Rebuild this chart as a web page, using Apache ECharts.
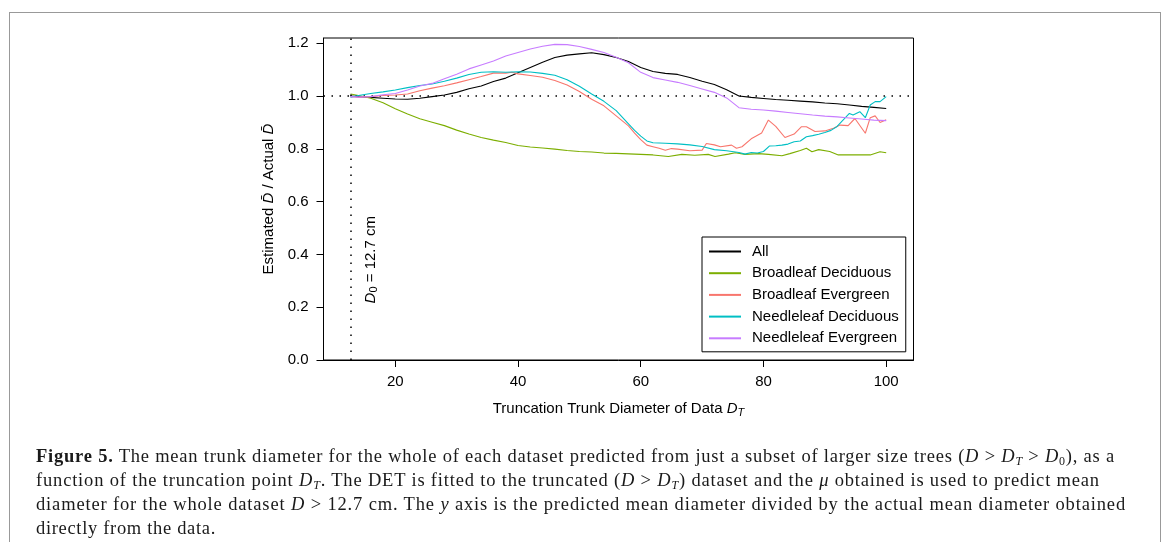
<!DOCTYPE html>
<html>
<head>
<meta charset="utf-8">
<script src="https://cdn.jsdelivr.net/npm/echarts@6/dist/echarts.min.js"></script>
<style>
    html, body { margin: 0; padding: 0; background: #fff; }
    #page { position: relative; width: 1171px; height: 542px; overflow: hidden; }
    #frame { position: absolute; left: 9px; top: 12px; width: 1150px; height: 560px; border: 1.5px solid #999; }
    #chart { position: absolute; left: 0; top: 0; width: 1171px; height: 542px; }
    #caption { position: absolute; left: 36px; top: 444px; font-family: 'Liberation Serif', serif; font-size: 18.5px; line-height: 24px; color: #1a1a1a; }
    #caption div { white-space: nowrap; }
    #caption sub { font-size: 12px; vertical-align: -3px; line-height: 0; }
</style>
</head>
<body>
<div id="page">
    <div id="frame"></div>
    <div id="chart"></div>
    <div id="caption">
        <div class="cap"><b>Figure 5.</b> The mean trunk diameter for the whole of each dataset predicted from just a subset of larger size trees (<i>D</i> &gt; <i>D<sub>T</sub></i> &gt; <i>D</i><sub>0</sub>), as a</div>
        <div class="cap">function of the truncation point <i>D<sub>T</sub></i>. The DET is fitted to the truncated (<i>D</i> &gt; <i>D<sub>T</sub></i>) dataset and the <i>μ</i> obtained is used to predict mean</div>
        <div class="cap">diameter for the whole dataset <i>D</i> &gt; 12.7 cm. The <i>y</i> axis is the predicted mean diameter divided by the actual mean diameter obtained</div>
        <div class="cap">directly from the data.</div>
    </div>
</div>
<script>
// 截断点 D0
const D0 = 12.7;
const xTicks = [20, 40, 60, 80, 100];
const yTicks = [0, 0.2, 0.4, 0.6, 0.8, 1.0, 1.2];

const seriesNames = ['All', 'Broadleaf Deciduous', 'Broadleaf Evergreen', 'Needleleaf Deciduous', 'Needleleaf Evergreen'];
const seriesColors = ['#000000', '#7CAE00', '#F8766D', '#00BFC4', '#C77CFF'];

// [D_T, 估计/实际]
const allData = [[12.7, 1.000], [14, 0.998], [16, 0.995], [18, 0.992], [20, 0.989], [22, 0.988], [24, 0.992], [26, 0.998], [28, 1.004],
    [30, 1.014], [32, 1.028], [34, 1.038], [36, 1.055], [38, 1.068], [40, 1.088], [42, 1.108], [44, 1.128], [46, 1.146],
    [48, 1.155], [50, 1.160], [52, 1.164], [54, 1.157], [56, 1.146], [58, 1.131], [60, 1.108], [62, 1.093], [64, 1.086],
    [66, 1.082], [68, 1.070], [70, 1.056], [72, 1.044], [74, 1.024], [76, 1.000], [78, 0.995], [80, 0.991], [82, 0.987],
    [84, 0.984], [86, 0.981], [88, 0.978], [90, 0.974], [92, 0.971], [94, 0.966], [96, 0.961], [98, 0.957], [100, 0.953]];

const broadDecData = [[12.7, 1.008], [14, 1.002], [16, 0.992], [18, 0.975], [20, 0.952], [22, 0.932], [24, 0.914], [26, 0.901],
    [28, 0.888], [30, 0.871], [32, 0.856], [34, 0.843], [36, 0.833], [38, 0.824], [40, 0.813], [42, 0.807], [44, 0.803],
    [46, 0.799], [48, 0.794], [50, 0.790], [52, 0.788], [54, 0.784], [56, 0.783], [58, 0.781], [60, 0.779], [62, 0.777],
    [64.5, 0.771], [66.7, 0.779], [68.8, 0.776], [71, 0.779], [72.1, 0.771], [74.3, 0.780], [75.4, 0.785], [77, 0.779],
    [79.2, 0.782], [80.8, 0.779], [83, 0.774], [84.3, 0.782], [86, 0.794], [87, 0.802], [87.9, 0.789], [89, 0.797],
    [90.8, 0.790], [92.2, 0.777], [94.6, 0.777], [97.4, 0.777], [99, 0.789], [100, 0.785]];

const broadEvgData = [[12.7, 0.998], [14, 0.996], [16, 0.998], [18, 1.002], [20, 1.004], [22, 1.008], [24, 1.020], [26, 1.030],
    [28, 1.039], [30, 1.050], [32, 1.062], [34, 1.074], [36, 1.087], [38, 1.087], [39, 1.090], [40, 1.084], [42, 1.078],
    [44, 1.071], [46, 1.059], [48, 1.042], [50, 1.017], [52, 0.988], [54, 0.963], [56, 0.925], [58, 0.887], [59, 0.860],
    [60, 0.835], [61, 0.814], [62, 0.808], [63, 0.802], [64, 0.795], [65, 0.801], [66, 0.799], [68, 0.793], [70, 0.795],
    [70.7, 0.820], [72, 0.815], [73, 0.808], [74.8, 0.814], [75.6, 0.802], [76.5, 0.808], [78, 0.838], [79.7, 0.860],
    [80.8, 0.909], [82, 0.885], [83.5, 0.843], [85, 0.856], [86.2, 0.884], [87, 0.884], [88.4, 0.866], [90, 0.868],
    [91.4, 0.878], [92.5, 0.890], [93.8, 0.888], [94.9, 0.915], [96.6, 0.859], [97.4, 0.918], [98.2, 0.925], [99, 0.900],
    [100, 0.910]];

const needleDecData = [[12.7, 0.996], [14, 1.002], [16, 1.010], [18, 1.016], [20, 1.023], [22, 1.032], [24, 1.040], [26, 1.046],
    [28, 1.056], [30, 1.068], [32, 1.082], [34, 1.090], [36, 1.092], [38, 1.090], [40, 1.092], [42, 1.091], [44, 1.086],
    [46, 1.079], [48, 1.062], [50, 1.037], [52, 1.008], [54, 0.980], [56, 0.945], [58, 0.895], [59, 0.870], [60, 0.848],
    [61, 0.830], [62, 0.823], [64, 0.821], [66, 0.819], [68, 0.815], [70, 0.809], [72, 0.797], [74, 0.793], [76, 0.786],
    [77, 0.780], [78, 0.786], [79, 0.784], [80, 0.790], [81, 0.811], [82, 0.812], [83, 0.814], [84, 0.818], [85, 0.827],
    [86, 0.830], [87, 0.846], [88, 0.850], [89, 0.855], [90, 0.862], [91, 0.870], [92, 0.885], [93, 0.910], [94, 0.934],
    [94.6, 0.928], [95.7, 0.941], [96.6, 0.918], [97.4, 0.966], [98.2, 0.979], [99, 0.979], [100, 0.998]];

const needleEvgData = [[12.7, 0.998], [14, 0.996], [16, 0.998], [18, 1.005], [20, 1.010], [22, 1.023], [24, 1.038], [26, 1.048],
    [28, 1.066], [30, 1.083], [32, 1.103], [34, 1.118], [36, 1.133], [38, 1.152], [40, 1.165], [42, 1.178], [44, 1.189],
    [46, 1.196], [48, 1.195], [50, 1.188], [52, 1.177], [54, 1.165], [56, 1.147], [58, 1.126], [60, 1.090], [62, 1.070],
    [64, 1.061], [66, 1.052], [68, 1.040], [70, 1.027], [72, 1.014], [74, 0.993], [76, 0.956], [78, 0.950], [80, 0.947],
    [82, 0.943], [84, 0.938], [86, 0.933], [88, 0.928], [90, 0.924], [92, 0.921], [94, 0.917], [96, 0.913], [98, 0.909],
    [100, 0.907]];

const seriesData = [allData, broadDecData, broadEvgData, needleDecData, needleEvgData];

const FONT = "'Liberation Sans', Arial, sans-serif";
const FS = 15;
const chart = echarts.init(document.getElementById('chart'), null, { renderer: 'canvas' });

const series = seriesNames.map((name, i) => ({
    name: name,
    type: 'line',
    data: seriesData[i],
    symbol: 'none',
    lineStyle: { color: seriesColors[i], width: 1.1 },
    itemStyle: { color: seriesColors[i] },
    z: 3 + i
}));

// 参考线: y = 1 和 x = D0
series[0].markLine = {
    silent: true,
    symbol: ['none', 'none'],
    label: { show: false },
    lineStyle: { color: '#000', width: 1.5, type: [1.5, 6.5] },
    data: [{ yAxis: 1 }, { xAxis: D0 }]
};

const option = {
    animation: false,
    backgroundColor: 'transparent',
    grid: {
        left: 323.5, top: 38, width: 590, height: 322,
        show: true, borderColor: '#000', borderWidth: 1
    },
    xAxis: {
        type: 'value',
        min: 8.3, max: 104.45,
        axisLine: { show: true, lineStyle: { color: '#000', width: 1 } },
        axisTick: { show: true, customValues: xTicks, length: 7, lineStyle: { color: '#000' } },
        axisLabel: { customValues: xTicks, color: '#000', fontSize: FS, fontFamily: FONT, margin: 14 },
        splitLine: { show: false },
        name: '{t|Truncation Trunk Diameter of Data }{i|D}{s|T}',
        nameLocation: 'middle',
        nameGap: 40,
        nameTextStyle: {
            color: '#000', fontSize: FS, fontFamily: FONT,
            rich: {
                t: { fontSize: FS, fontFamily: FONT, color: '#000', lineHeight: 18 },
                i: { fontSize: FS, fontFamily: FONT, color: '#000', fontStyle: 'italic', lineHeight: 18 },
                s: { fontSize: 11, fontFamily: FONT, color: '#000', fontStyle: 'italic', lineHeight: 8, verticalAlign: 'bottom' }
            }
        }
    },
    yAxis: {
        type: 'value',
        min: 0, max: 1.22,
        axisLine: { show: true, lineStyle: { color: '#000', width: 1 } },
        axisTick: { show: true, customValues: yTicks, length: 7, lineStyle: { color: '#000' } },
        axisLabel: {
            customValues: yTicks, color: '#000', fontSize: FS, fontFamily: FONT, margin: 15,
            formatter: v => v.toFixed(1)
        },
        splitLine: { show: false },
        name: 'Estimated {i|D\u0304} / Actual {i|D\u0304}',
        nameLocation: 'middle',
        nameGap: 47,
        nameTextStyle: {
            color: '#000', fontSize: FS, fontFamily: FONT,
            rich: {
                i: { fontSize: FS, fontFamily: FONT, color: '#000', fontStyle: 'italic' }
            }
        }
    },
    legend: {
        orient: 'vertical',
        left: 702, top: 237,
        data: seriesNames,
        selectedMode: false,
        itemWidth: 32, itemHeight: 14, itemGap: 6.7,
        padding: [7, 7, 6, 6],
        borderColor: '#000', borderWidth: 1, borderRadius: 0,
        itemStyle: { opacity: 0 },
        textStyle: { color: '#000', fontSize: FS, fontFamily: FONT, padding: [0, 0, 0, 6] }
    },
    series: series
};

chart.setOption(option);

// D0 标注文字, 用坐标轴换算位置
const p = chart.convertToPixel({ gridIndex: 0 }, [D0, 0.38]);
chart.setOption({
    graphic: [{
        type: 'text',
        x: p[0] + 20,
        y: p[1],
        rotation: Math.PI / 2,
        silent: true,
        style: {
            text: '{i|D}{s|0} = 12.7 cm',
            align: 'center',
            verticalAlign: 'middle',
            fill: '#000',
            fontSize: FS,
            fontFamily: FONT,
            lineHeight: 18,
            rich: {
                i: { fontSize: FS, fontFamily: FONT, fontStyle: 'italic', fill: '#000', lineHeight: 18 },
                s: { fontSize: 11, fontFamily: FONT, fill: '#000', lineHeight: 8, verticalAlign: 'bottom' }
            }
        }
    }]
});

// 标题行宽度对齐参考图
const capEnds = [1115, 1100, 1126, 216];
document.querySelectorAll('#caption .cap').forEach((el, i) => {
    el.style.display = 'inline-block';
    const w = el.getBoundingClientRect().width;
    const n = el.textContent.length;
    const target = capEnds[i] - 36;
    el.style.letterSpacing = ((target - w) / n) + 'px';
    el.style.display = 'block';
});
</script>
</body>
</html>
